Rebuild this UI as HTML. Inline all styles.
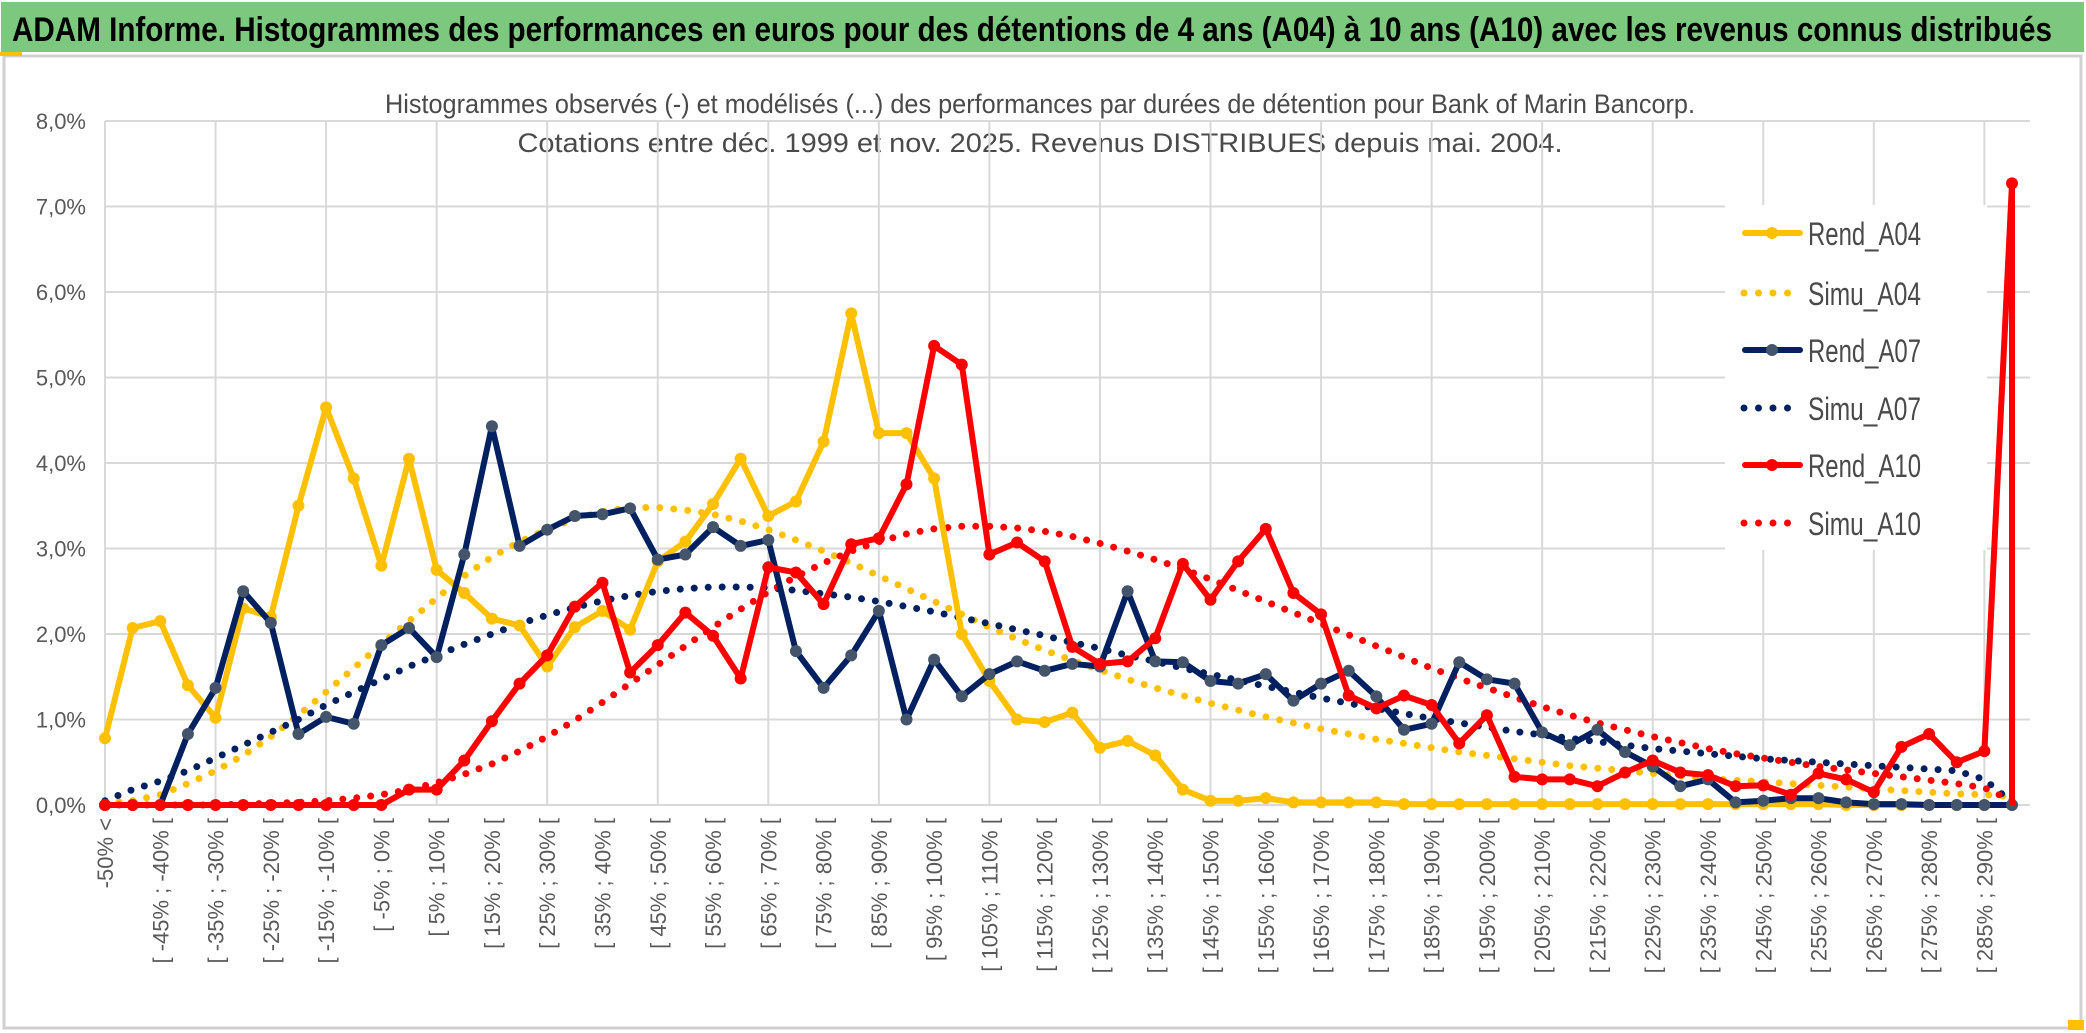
<!DOCTYPE html>
<html><head><meta charset="utf-8">
<style>
html,body{margin:0;padding:0;background:#fff;}
svg{display:block;}
text{font-family:"Liberation Sans",sans-serif;}
</style></head>
<body>
<svg id="chart" width="2086" height="1033" viewBox="0 0 2086 1033" xmlns="http://www.w3.org/2000/svg">
  <rect x="0" y="0" width="2086" height="1033" fill="#ffffff"/>
  <rect x="1" y="2" width="2083" height="50" fill="#7dc87f"/>
  <text x="12" y="41" font-size="34" font-weight="bold" fill="#000" textLength="2040" lengthAdjust="spacingAndGlyphs">ADAM Informe. Histogrammes des performances en euros pour des détentions de 4 ans (A04) à 10 ans (A10) avec les revenus connus distribués</text>
  <rect x="4" y="56" width="2077" height="972" fill="none" stroke="#d0d0d0" stroke-width="3"/>
  <rect x="0" y="52" width="22" height="4" fill="#ffc000"/>
  <rect x="2068" y="1020" width="16" height="10" fill="#ffc000"/>
  <text x="1040" y="113" font-size="27" fill="#4a4a4a" text-anchor="middle" textLength="1310" lengthAdjust="spacingAndGlyphs">Histogrammes observés (-) et modélisés (...) des performances par durées de détention pour Bank of Marin Bancorp.</text>
  <text x="1040" y="152" font-size="27" fill="#4a4a4a" text-anchor="middle" textLength="1045" lengthAdjust="spacingAndGlyphs">Cotations entre déc. 1999 et nov. 2025. Revenus DISTRIBUES depuis mai. 2004.</text>
  <g id="grid"></g>
  <g id="ylabels"></g>
  <g id="xlabels"></g>
  <g id="legend"></g>
  <g id="series"></g>
</svg>
<script>
const categories = [];
categories.push("-50% <");
for (let k = 1; k < 70; k++) { const a = -50 + 5 * (k - 1); categories.push("[ " + a + "% ; " + (a + 5) + "% ["); }
const yTicks = [0,1,2,3,4,5,6,7,8];
const yTickLabels = ["0,0%","1,0%","2,0%","3,0%","4,0%","5,0%","6,0%","7,0%","8,0%"];
const rendA04 = [0.78,2.07,2.15,1.40,1.02,2.30,2.20,3.50,4.65,3.82,2.80,4.05,2.75,2.48,2.18,2.10,1.62,2.08,2.27,2.05,2.85,3.08,3.52,4.05,3.38,3.55,4.25,5.75,4.35,4.35,3.82,2.00,1.45,1.00,0.97,1.08,0.67,0.75,0.58,0.18,0.05,0.05,0.08,0.03,0.03,0.03,0.03,0.01,0.01,0.01,0.01,0.01,0.01,0.01,0.01,0.01,0.01,0.01,0.01,0.01,0.01,0.01,0.01,0,0,0,0,0,0,0];
const simuA04 = [0.02,0.05,0.12,0.25,0.40,0.58,0.80,1.05,1.32,1.60,1.88,2.15,2.42,2.68,2.90,3.08,3.22,3.35,3.43,3.48,3.48,3.45,3.40,3.32,3.22,3.10,2.97,2.83,2.68,2.53,2.38,2.23,2.08,1.94,1.81,1.69,1.58,1.47,1.37,1.28,1.19,1.11,1.03,0.96,0.89,0.83,0.77,0.72,0.67,0.62,0.58,0.54,0.50,0.46,0.43,0.40,0.37,0.34,0.31,0.29,0.27,0.25,0.23,0.21,0.19,0.17,0.15,0.13,0.12,0.10];
const rendA07 = [0,0,0,0.83,1.37,2.50,2.13,0.83,1.03,0.95,1.87,2.07,1.73,2.93,4.43,3.03,3.22,3.38,3.40,3.47,2.87,2.93,3.25,3.03,3.10,1.80,1.37,1.75,2.27,1.00,1.70,1.27,1.53,1.68,1.57,1.65,1.62,2.50,1.68,1.67,1.45,1.42,1.53,1.22,1.42,1.57,1.27,0.88,0.95,1.67,1.47,1.42,0.85,0.70,0.88,0.62,0.45,0.22,0.30,0.03,0.05,0.08,0.08,0.03,0.01,0.01,0,0,0,0];
const simuA07 = [0.05,0.18,0.28,0.40,0.55,0.70,0.85,1.00,1.17,1.32,1.47,1.62,1.75,1.88,2.00,2.12,2.22,2.31,2.39,2.45,2.50,2.53,2.55,2.55,2.54,2.51,2.47,2.43,2.38,2.32,2.26,2.19,2.12,2.05,1.98,1.90,1.83,1.75,1.68,1.60,1.53,1.46,1.39,1.32,1.25,1.19,1.13,1.07,1.01,0.96,0.91,0.86,0.82,0.78,0.74,0.70,0.66,0.63,0.60,0.57,0.54,0.52,0.50,0.48,0.46,0.44,0.42,0.40,0.30,0.03];
const rendA10 = [0,0,0,0,0,0,0,0,0,0,0,0.18,0.18,0.52,0.98,1.42,1.75,2.32,2.60,1.55,1.87,2.25,1.98,1.48,2.78,2.72,2.35,3.05,3.12,3.75,5.37,5.15,2.93,3.07,2.85,1.85,1.65,1.68,1.95,2.82,2.40,2.85,3.23,2.48,2.23,1.28,1.13,1.28,1.17,0.72,1.05,0.33,0.30,0.30,0.22,0.38,0.52,0.38,0.35,0.22,0.23,0.12,0.37,0.30,0.15,0.68,0.83,0.50,0.63,7.27];
const simuA10 = [0,0,0,0,0,0.01,0.02,0.03,0.05,0.08,0.12,0.18,0.26,0.36,0.48,0.63,0.80,0.99,1.20,1.42,1.64,1.86,2.08,2.29,2.49,2.67,2.83,2.97,3.08,3.17,3.23,3.26,3.26,3.24,3.20,3.14,3.06,2.97,2.87,2.76,2.64,2.51,2.38,2.25,2.12,1.99,1.86,1.73,1.60,1.48,1.37,1.26,1.15,1.05,0.96,0.88,0.80,0.73,0.66,0.60,0.55,0.50,0.45,0.41,0.37,0.33,0.29,0.25,0.20,0.05];

const NS = "http://www.w3.org/2000/svg";
const X0 = 105, XSTEP = (2012 - 105) / 69, Y0 = 805, YPER = (805 - 121) / 8;
function xPos(i){ return X0 + i * XSTEP; }
function yPos(v){ return Y0 - v * YPER; }
function mk(tag, attrs, parent){ const e = document.createElementNS(NS, tag); for (const k in attrs) e.setAttribute(k, attrs[k]); parent.appendChild(e); return e; }

const grid = document.getElementById("grid");
yTicks.forEach(function(t){
  const l = mk("line", {x1:X0, x2:2030, y1:yPos(t), y2:yPos(t), stroke:"#d9d9d9", "stroke-width":2}, grid);
  
  
});
for (let i = 0; i <= 72; i += 4) {
  const l = mk("line", {x1:xPos(i), x2:xPos(i), y1:yPos(8), y2:Y0, stroke:"#d9d9d9", "stroke-width":2}, grid);
  
  
}

const yl = document.getElementById("ylabels");
yTicks.forEach(function(t, i){
  const tx = mk("text", {x:86, y:yPos(t) + 8, "font-size":22, fill:"#595959", "text-anchor":"end"}, yl);
  tx.textContent = yTickLabels[i];
  
  
});

const xl = document.getElementById("xlabels");
categories.forEach(function(c, i){
  if (i % 2 !== 0) return;
  const x = xPos(i) + 8, y = 818;
  const tx = mk("text", {x:x, y:y, "font-size":22, fill:"#595959", "text-anchor":"end", transform:"rotate(-90 " + x + " " + y + ")"}, xl);
  tx.textContent = c;
  
  
});

const lg = document.getElementById("legend");
const lbg = mk("rect", {x:1725, y:205, width:262, height:345, fill:"#ffffff"}, lg);


const legendNames = ["Rend_A04","Simu_A04","Rend_A07","Simu_A07","Rend_A10","Simu_A10"];
const legendColors = ["#ffc000","#ffc000","#002060","#002060","#ff0000","#ff0000"];
const legendMarkers = ["#ffc000",null,"#44546a",null,"#ff0000",null];
const legendY = [233,293,350,408,465,523];
legendNames.forEach(function(n, i){
  const y = legendY[i];
  const g = mk("g", {}, lg);
  
  
  if (legendMarkers[i]) {
    mk("line", {x1:1745, x2:1800, y1:y, y2:y, stroke:legendColors[i], "stroke-width":6, "stroke-linecap":"round"}, g);
    mk("circle", {cx:1772, cy:y, r:6, fill:legendMarkers[i]}, g);
  } else {
    mk("line", {x1:1744, x2:1796, y1:y, y2:y, stroke:legendColors[i], "stroke-width":7, "stroke-linecap":"round", "stroke-dasharray":"0 14.5"}, g);
  }
  const t = mk("text", {x:1808, y:y + 12, "font-size":32, fill:"#4a4a4a", textLength:113, lengthAdjust:"spacingAndGlyphs"}, g);
  t.textContent = n;
});

const sg = document.getElementById("series");
function pathFor(arr, extraDrop){
  let d = arr.map(function(v, i){ return (i ? "L" : "M") + xPos(i).toFixed(1) + " " + yPos(v).toFixed(1); }).join(" ");
  if (extraDrop) d += " L" + xPos(arr.length - 1).toFixed(1) + " " + Y0;
  return d;
}
function dotted(arr, color, name){
  const p = mk("path", {d:pathFor(arr), fill:"none", stroke:color, "stroke-width":7, "stroke-linecap":"round", "stroke-dasharray":"0 14"}, sg);
  
  
}
function solid(arr, color, marker, name, drop){
  const p = mk("path", {d:pathFor(arr, drop), fill:"none", stroke:color, "stroke-width":6, "stroke-linejoin":"round"}, sg);
  
  
  arr.forEach(function(v, i){
    const c = mk("circle", {cx:xPos(i), cy:yPos(v), r:6, fill:marker}, sg);
    
    
  });
}
dotted(simuA04, "#ffc000", "simu-a04-line");
dotted(simuA07, "#002060", "simu-a07-line");
dotted(simuA10, "#ff0000", "simu-a10-line");
solid(rendA04, "#ffc000", "#ffc000", "rend-a04-line", false);
solid(rendA07, "#002060", "#44546a", "rend-a07-line", false);
solid(rendA10, "#ff0000", "#ff0000", "rend-a10-line", true);
</script>
</body></html>
